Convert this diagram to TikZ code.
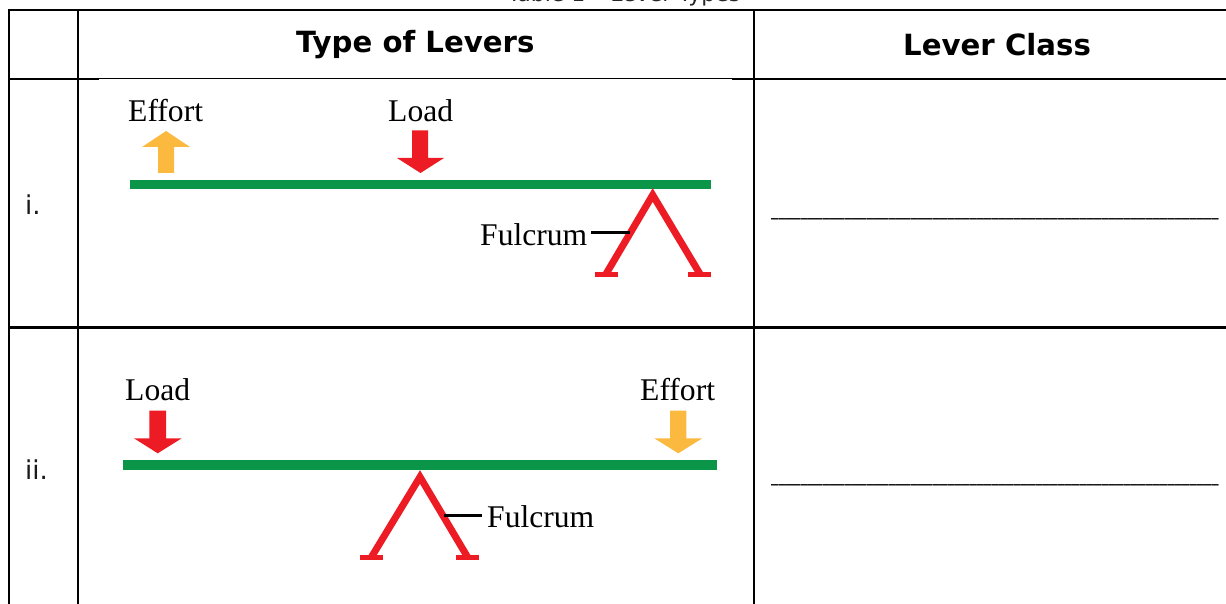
\documentclass[tikz,border=0pt]{standalone}
\usepackage{fontspec}
\setmainfont{DejaVu Sans}
\newfontfamily\timesf{Liberation Serif}
\definecolor{levergreen}{HTML}{0A9548}
\definecolor{leverred}{HTML}{ED1C24}
\definecolor{leveramber}{HTML}{FBB93F}
\newcommand{\ufive}{\_\_\_\_\_}
\newcommand{\ublank}{\ufive\ufive\ufive\ufive\ufive\ufive\ufive\ufive\ufive\ufive\ufive\ufive\_}
\tikzset{
  rule/.style={line width=2.4pt,black},
  lbl/.style={inner sep=0pt,anchor=base west,font=\timesf\fontsize{31.6}{32}\selectfont,text=black},
  hdr/.style={inner sep=0pt,anchor=base west,font=\fontsize{29.2}{30}\selectfont\bfseries},
  rowlbl/.style={inner sep=0pt,anchor=base west,font=\fontsize{26}{26}\selectfont,text=black!90},
  bar/.style={fill=levergreen,draw=none},
  redarrow/.style={fill=leverred,draw=none},
  amberarrow/.style={fill=leveramber,draw=none},
  stand/.style={draw=leverred,line width=7pt,line join=miter,miter limit=10},
  foot/.style={draw=leverred,line width=5pt},
  leader/.style={draw=black,line width=2.6pt},
  blank/.style={inner sep=0pt,anchor=base west,font=\fontsize{14.67}{15}\selectfont\bfseries,text=black}
}
\begin{document}
\begin{tikzpicture}[x=1pt,y=-1pt]
\useasboundingbox (0,0) rectangle (1226,604);
\clip (0,0) rectangle (1226,604);
\fill[white] (0,0) rectangle (1226,604);
% table rules
\draw[rule] (8.7,10) -- (1226,10);
\draw[rule] (8.7,79) -- (1226,79);
\draw[rule] (8.7,327.5) -- (1226,327.5);
\draw[rule] (8.7,8.8) -- (8.7,604);
\draw[rule] (78,10) -- (78,604);
\draw[rule] (754,10) -- (754,604);
\fill[white] (99,79.4) rectangle (732,81);
% texts
\node[inner sep=0pt,anchor=base,font=\fontsize{22}{22}\selectfont,text=black!85] (cap) at (624,2) {Table 1 -- Lever Types};
\node[hdr] (h1) at (296,52.5) {Type of Levers};
\node[hdr] (h2) at (903,55.7) {Lever Class};
\node[rowlbl] (r1) at (25,214.3) {i.};
\node[rowlbl] (r2) at (25,479.3) {ii.};
\node[blank] (b1) at (771,216.5) {\ublank};
\node[blank] (b2) at (771,482) {\ublank};
% lever i
\fill[bar] (130,180) rectangle (711,189);
\fill[amberarrow] (166,131) -- (190,147) -- (174,147) -- (174,173) -- (158,173) -- (158,147) -- (142,147) -- cycle;
\fill[redarrow] (412,130.5) -- (428,130.5) -- (428,158) -- (444,158) -- (420.5,173) -- (397,158) -- (412,158) -- cycle;
\node[lbl] (e1) at (128,122) {Effort};
\node[lbl] (l1) at (388,122) {Load};
\node[lbl] (f1) at (480,245) {Fulcrum};
\draw[stand] (606,274) -- (652.7,195) -- (700,274);
\draw[foot] (595,274) -- (618,274);
\draw[foot] (688,274) -- (711,274);
\coordinate (f1end) at (630,232.7);
\draw[leader] (f1.east |- f1end) ++(4,0) -- (f1end);
% lever ii
\fill[bar] (122.7,460.3) rectangle (717,469.7);
\fill[redarrow] (149.3,410.7) -- (166,410.7) -- (166,438.3) -- (181.7,438.3) -- (157.7,453.3) -- (134,438.3) -- (149.3,438.3) -- cycle;
\fill[amberarrow] (670,410.7) -- (686.3,410.7) -- (686.3,438.3) -- (702.3,438.3) -- (678.3,453.3) -- (654.3,438.3) -- (670,438.3) -- cycle;
\node[lbl] (l2) at (125,400) {Load};
\node[lbl] (e2) at (640,400) {Effort};
\node[lbl] (f2) at (487,527) {Fulcrum};
\draw[stand] (371.5,557) -- (420,477) -- (467.5,557);
\draw[foot] (360,557.3) -- (383.3,557.3);
\draw[foot] (456,557.3) -- (479,557.3);
\coordinate (f2end) at (444,515.7);
\draw[leader] (f2end) -- ([xshift=-5pt]f2.west |- f2end);
\end{tikzpicture}
\end{document}
